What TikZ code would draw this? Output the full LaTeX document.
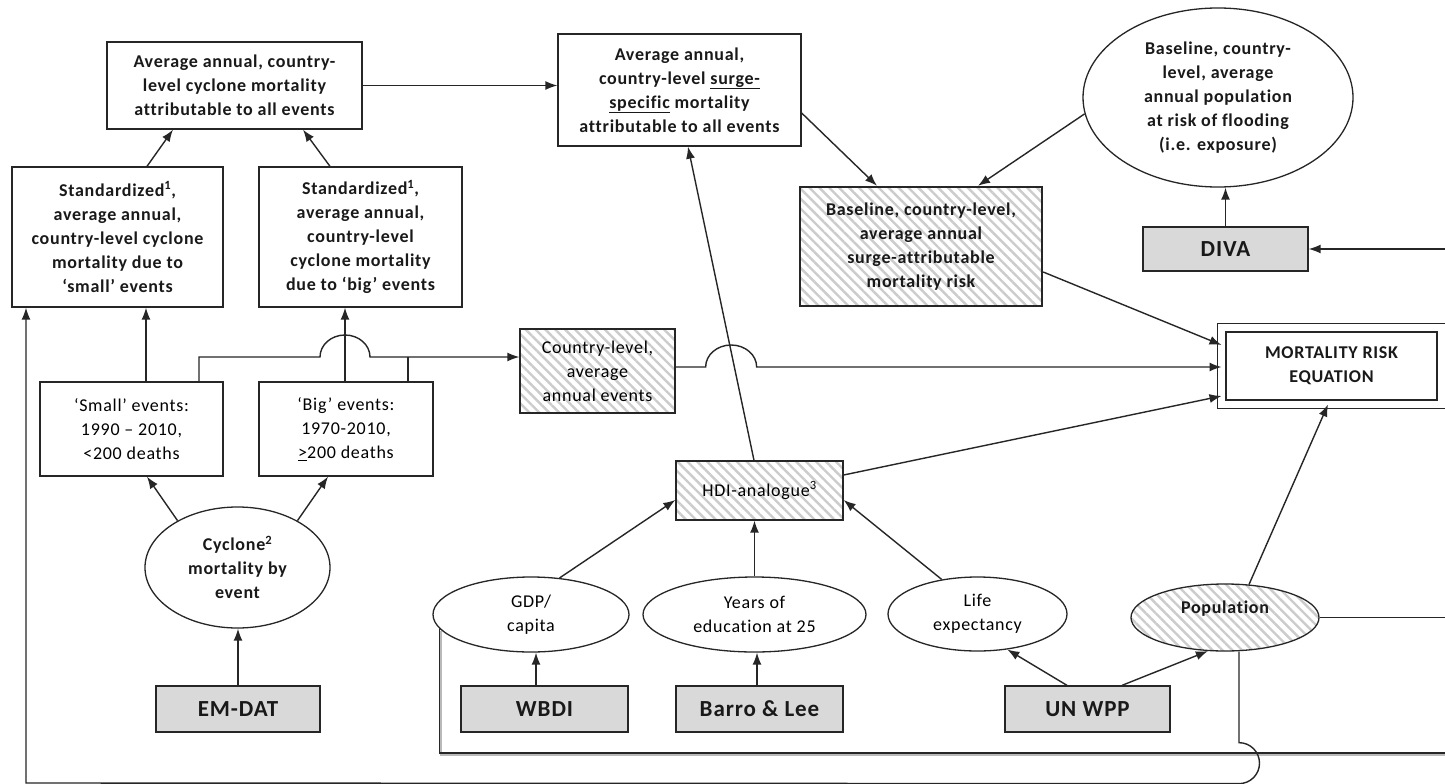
\documentclass[tikz,border=0pt]{standalone}
\usepackage{fontspec}
\setmainfont{Carlito}[LetterSpace=4,Ligatures=NoCommon]
\usetikzlibrary{shapes.geometric,arrows.meta,patterns.meta,calc}
\begin{document}
\begin{tikzpicture}[x=1pt,y=-1pt,
  btxt/.style={font=\bfseries\fontsize{18}{24}\selectfont, text=black!90, align=center, inner sep=0pt},
  rtxt/.style={font=\fontsize{18}{24}\selectfont, text=black, align=center, inner sep=0pt},
  box/.style={draw=black!85, line width=1.3pt},
  srcbox/.style={box, fill=gray!30, font=\bfseries\fontsize{23}{26}\selectfont, text=black!90, inner sep=0pt, minimum height=46pt},
  oval/.style={ellipse, draw=black!85, line width=1.3pt},
  hatch/.style={pattern={Lines[angle=-45,distance=7pt,line width=2.4pt]}, pattern color=gray!40},
  ln/.style={draw=black!85, line width=1.4pt},
  arr/.style={ln, -{Latex[length=12pt,width=9pt]}},
  shade/.style={draw=gray!55, line width=1.8pt, transform canvas={xshift=1pt,yshift=-1.6pt}}
]
\useasboundingbox[fill=white] (0,0) rectangle (1445,784);
\coordinate (rE) at (1445,0);
\coordinate (rG) at (1445,753);
\coordinate (botL) at (26,783);
\coordinate (jA) at (320,357);

% top row
\node[box, btxt, minimum width=255pt, minimum height=87pt] (top) at (234.5,85.5)
  {Average annual, country-\\level cyclone mortality\\attributable to all events};
\node[box, btxt, minimum width=211pt, minimum height=140pt] (stdS) at (117.5,237)
  {Standardized\textsuperscript{1},\\average annual,\\country-level cyclone\\mortality due to\\‘small’ events};
\node[box, btxt, minimum width=203pt, minimum height=140pt] (stdB) at (360.5,237)
  {Standardized\textsuperscript{1},\\average annual,\\country-level\\cyclone mortality\\due to ‘big’ events};
\node[box, btxt, minimum width=243pt, minimum height=112pt] (surge) at (679.5,90)
  {Average annual,\\country-level \underline{surge-}\\\underline{specific} mortality\\attributable to all events};
\node[box, hatch, btxt, minimum width=242pt, minimum height=119pt] (base) at (921,246.5)
  {Baseline, country-level,\\average annual\\surge-attributable\\mortality risk};
\node[oval, btxt, minimum width=270pt, minimum height=179pt] (flood) at (1218,97.5)
  {Baseline, country-\\level, average\\annual population\\at risk of flooding\\(i.e. exposure)};
\node[srcbox, minimum width=165pt, minimum height=44pt] (diva) at (1225.5,249) {DIVA};
\node[draw=black!85, line width=1.9pt, btxt, minimum width=211pt, minimum height=68pt, outer sep=4.5pt] (mre) at (1331.5,366)
  {MORTALITY RISK\\EQUATION};
\draw[draw=black!85, line width=1pt] ([shift={(-4pt,4pt)}]mre.north west) rectangle ([shift={(4pt,-4pt)}]mre.south east);

% middle
\node[box, rtxt, minimum width=183pt, minimum height=94pt] (small) at (131.5,429)
  {‘Small’ events:\\1990 -- 2010,\\<200 deaths};
\node[box, rtxt, minimum width=174pt, minimum height=94pt] (big) at (346,429)
  {‘Big’ events:\\1970-2010,\\\underline{>}200 deaths};
\node[box, hatch, rtxt, minimum width=155pt, minimum height=84pt] (cty) at (597.5,371)
  {Country-level,\\average\\annual events};
\node[box, hatch, rtxt, minimum width=167pt, minimum height=59pt] (hdi) at (759.5,490.5)
  {HDI-analogue\textsuperscript{3}};

% ellipses
\node[oval, btxt, minimum width=185pt, minimum height=121pt] (cyc) at (237.5,567.5)
  {Cyclone\textsuperscript{2}\\mortality by\\event};
\node[oval, rtxt, minimum width=196pt, minimum height=75pt] (gdp) at (531,614.5) {GDP/\\capita};
\node[oval, rtxt, minimum width=223pt, minimum height=75pt] (years) at (754.5,614.5) {Years of\\education at 25};
\node[oval, rtxt, minimum width=179pt, minimum height=74pt] (life) at (977.5,614) {Life\\expectancy};
\node[oval, hatch, btxt, minimum width=188pt, minimum height=67pt] (pop) at (1225,617.5) {Population\\[-4pt]\mbox{}};

% sources
\node[srcbox, minimum width=164pt] (emdat) at (238,709) {EM-DAT};
\node[srcbox, minimum width=167pt] (wbdi) at (544.5,709) {WBDI};
\node[srcbox, minimum width=167pt] (barro) at (759.5,709) {Barro \& Lee};
\node[srcbox, minimum width=165pt] (unwpp) at (1087.5,709) {UN WPP};

% connectors top
\draw[arr] ([xshift=29.5pt]stdS.north) -- ([xshift=-61.5pt]top.south);
\draw[arr] ([xshift=-30.5pt]stdB.north) -- ([xshift=68.5pt]top.south);
\draw[arr] (top.east) -- (top.east -| surge.west);
\draw[arr] ([yshift=-23pt]surge.east) -- ([xshift=-44pt]base.north);
\draw[arr] (flood.187.5) -- ([xshift=57pt]base.north);
\draw[arr] (diva.north) -- (diva.north |- flood.south);
\draw[arr] (rE |- diva.east) -- (diva.east);

% into MRE
\draw[arr] ([yshift=-25.5pt]base.east) -- ([yshift=21pt]mre.west);
\draw[arr] ([yshift=4pt]cty.east) -- ([xshift=30pt,yshift=4pt]cty.east)
  arc[start angle=180,end angle=0,x radius=25.5pt,y radius=22pt]
  -- ([yshift=4pt]cty.east -| mre.west);
\draw[arr] ([yshift=15.5pt]hdi.east) -- ([yshift=-30pt]mre.west);
\draw[arr] (pop.54.4) -- ([xshift=-3.5pt]mre.south);

% events
\draw[arr] ([xshift=14.5pt]small.north) -- ([xshift=14.5pt]small.north |- stdS.south);
\draw[arr] ([xshift=-1pt]big.north) -- ([xshift=-1pt]big.north |- stdB.south);
\draw[arr] ([xshift=67.5pt]small.north) |- (jA)
  arc[start angle=180,end angle=0,x radius=25pt,y radius=22pt]
  -- (jA -| cty.west);
\draw[ln] ([xshift=62pt]big.north) -- ([xshift=62pt]big.north |- jA);
\draw[arr] (cyc.142) -- ([xshift=15.5pt]small.south);
\draw[arr] (cyc.38) -- ([xshift=-18pt]big.south);
\draw[arr] (emdat.north) -- (emdat.north |- cyc.south);

% HDI inputs
\draw[arr] (hdi.north) ++(-5.5,0) -- ([xshift=8.5pt]surge.south);
\draw[arr] (gdp.52) -- ([yshift=-9.5pt]hdi.west);
\draw[arr] (years.north) -- (years.north |- hdi.south);
\draw[arr] (life.136) -- ([yshift=-9.5pt]hdi.east);
\draw[arr] ([xshift=-8.5pt]wbdi.north) -- ([xshift=-8.5pt]wbdi.north |- gdp.south);
\draw[arr] ([xshift=-2.5pt]barro.north) -- ([xshift=-2.5pt]barro.north |- years.south);
\draw[arr] ([xshift=-20.5pt]unwpp.north) -- (life.-50);
\draw[arr] ([xshift=34.5pt]unwpp.north) -- (pop.243);

% long lines
\draw[ln] (pop.east) -- (pop.east -| rE);
\draw[shade] (gdp.189) |- (rG);
\draw[ln] (gdp.189) |- (rG);
\draw[arr] ([xshift=14pt]pop.south) -- ([xshift=14pt,yshift=-91pt]pop.south)
  arc[start angle=90,end angle=-90,radius=20.5pt]
  -- (botL) -- (botL |- stdS.south);
\end{tikzpicture}
\end{document}
